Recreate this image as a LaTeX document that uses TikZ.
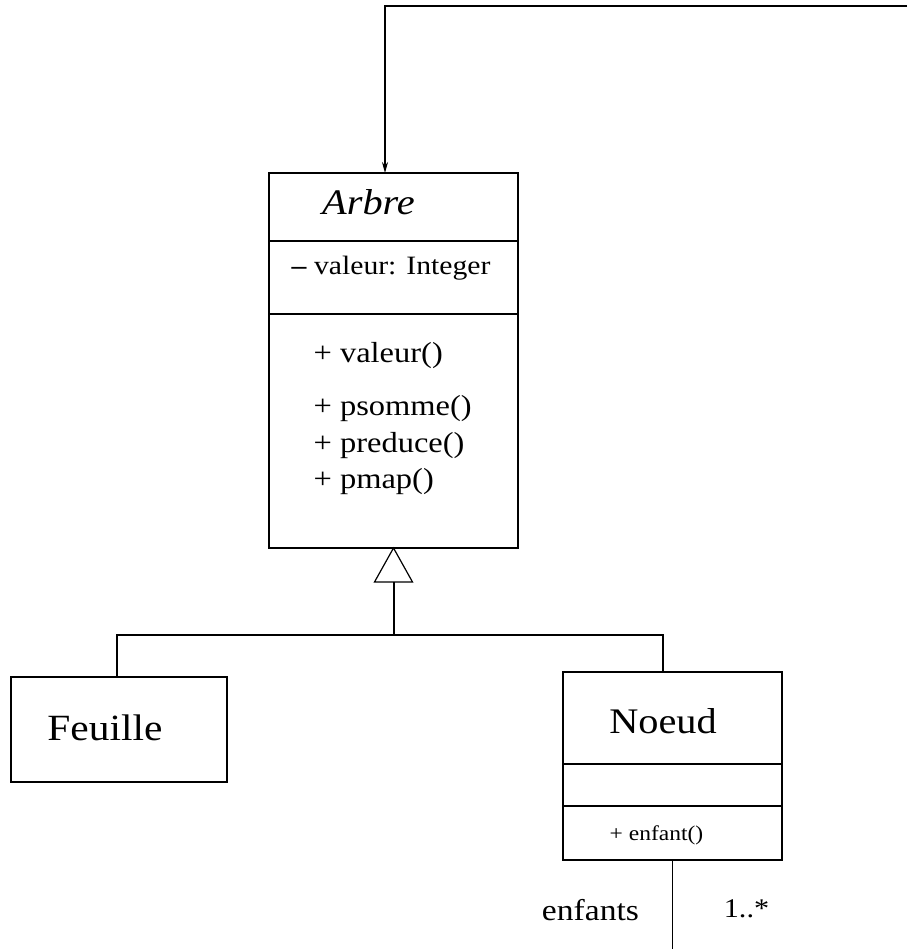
\documentclass[tikz,border=0pt]{standalone}
\usepackage{fontspec}
\setmainfont{Liberation Serif}[FakeStretch=1.12]
\usetikzlibrary{arrows.meta}
\begin{document}
\begin{tikzpicture}[x=1pt,y=-1pt,line width=1.2pt,
  box/.style={draw,line width=1.2pt,anchor=north west,inner sep=0pt,outer sep=0pt},
  lbl/.style={anchor=base,inner sep=0pt},
  lblw/.style={anchor=base west,inner sep=0pt},
  fs/.style={font=\fontsize{#1}{#1}\selectfont}]
\useasboundingbox (0,0) rectangle (907,949);
% Arbre
\node[box,minimum width=249pt,minimum height=375pt] (arbre) at (269,173) {};
\draw ([yshift=-68pt]arbre.north west) -- ([yshift=-68pt]arbre.north east);
\draw ([yshift=-141pt]arbre.north west) -- ([yshift=-141pt]arbre.north east);
\node[lbl,font=\fontsize{36}{36}\selectfont\itshape] (arbretitle) at (368.5,215) {Arbre};
\node[lbl,fs=26.5] (attr) at (391,275) {\textbf{--} valeur: Integer};
\node[lblw,fs=29] (m1) at (313,362) {+ valeur()};
\node[lblw,fs=29] (m2) at (313,415) {+ psomme()};
\node[lblw,fs=29] (m3) at (313,452) {+ preduce()};
\node[lblw,fs=29] (m4) at (313,488) {+ pmap()};
% Feuille
\node[box,minimum width=216pt,minimum height=105pt] (feuille) at (11,677) {};
\node[lbl,fs=37] (feuilletitle) at (105,740) {Feuille};
% Noeud
\node[box,minimum width=219pt,minimum height=188pt] (noeud) at (563,672) {};
\draw ([yshift=-92pt]noeud.north west) -- ([yshift=-92pt]noeud.north east);
\draw ([yshift=-134pt]noeud.north west) -- ([yshift=-134pt]noeud.north east);
\node[lbl,fs=36] (noeudtitle) at (663,733) {Noeud};
\node[lbl,fs=21] (enfantm) at (656.5,840) {+ enfant()};
% generalization
\coordinate (gbase) at (394,582);
\coordinate (joint) at (394,635);
\draw (arbre.south) -- ++(-19,34) -- ++(38,0) -- cycle;
\draw (gbase) -- (joint);
\draw ([xshift=-2pt]feuille.north) |- (joint) -| ([xshift=-9.5pt]noeud.north);
% top association
\coordinate (topend) at (907,6);
\draw[-{Stealth[length=11pt,width=6pt]}] (topend) -| ([xshift=-8.5pt]arbre.north);
% bottom association
\coordinate (botend) at (672.5,949);
\draw (noeud.south) -- (botend);
\node[lbl,fs=30] (role) at (590.5,920) {enfants};
\node[lbl,fs=27] (mult) at (746.5,917) {1..*};
\end{tikzpicture}
\end{document}
